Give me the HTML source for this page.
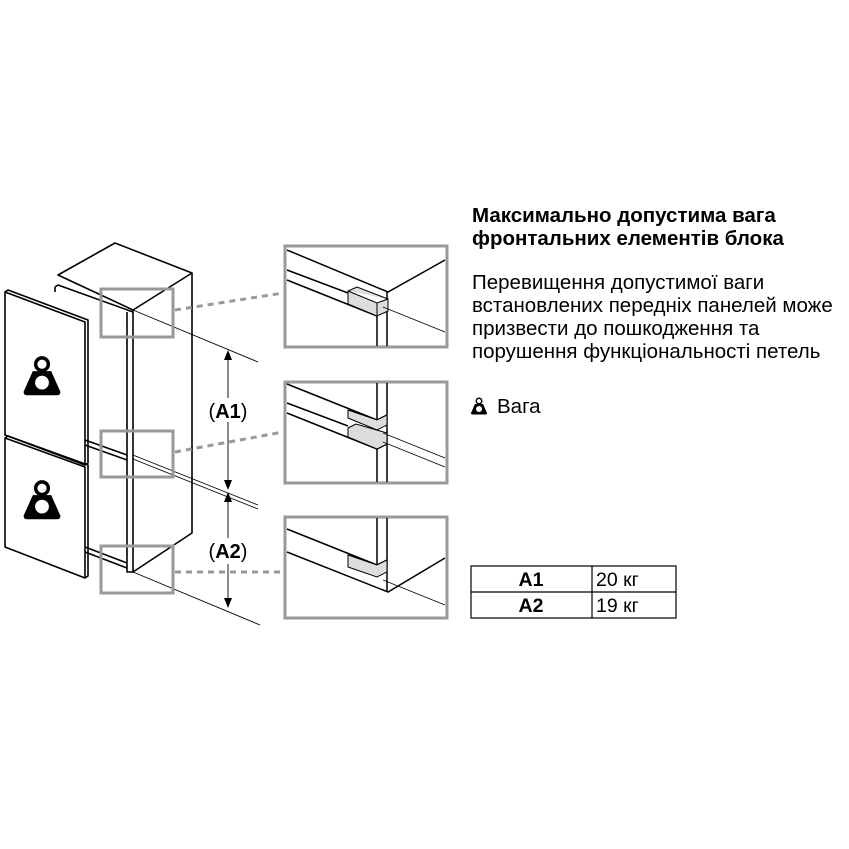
<!DOCTYPE html>
<html><head><meta charset="utf-8"><style>
html,body{margin:0;padding:0;background:#fff;width:849px;height:849px;overflow:hidden}
svg{display:block}
text{font-family:"Liberation Sans",sans-serif;fill:#000}
</style></head><body>
<svg width="849" height="849" viewBox="0 0 849 849" xmlns="http://www.w3.org/2000/svg">
<defs>
<g id="wt">
<circle cx="0" cy="-12" r="5.5" fill="none" stroke="#000" stroke-width="3"/>
<path d="M-8,-6 L8,-6 L16,12 Q16,15 13,15 L-13,15 Q-16,15 -16,12 Z" fill="#000"/>
<circle cx="0" cy="4" r="6" fill="#fff"/>
</g>
</defs>
<g fill="none" stroke="#000" stroke-width="1.6" stroke-linejoin="round">
<path d="M58,275 L115,243 L192,273 L133,310 Z" fill="#fff"/>
<path d="M192,273 L192,533 L133,572 L133,310"/>
<path d="M55,287 L55,292 M55,287 L58,285 L133,312"/>
<path d="M127,312 L127,572 L133,572"/>
<path d="M85,440 L127,455 M85,445 L127,460"/>
<path d="M85,547 L127,563 M85,552 L127,568"/>
<path d="M5,292 L85,322 L85,465 L5,435 Z" fill="#fff"/>
<path d="M5,292 L8,290 L88,320 L88,463 L85,465"/>
<path d="M5,438 L85,467 L85,578 L5,547 Z" fill="#fff"/>
<path d="M5,438 L8,436 L88,465 L88,576 L85,578"/>
</g>
<use href="#wt" transform="translate(42,378) scale(1.15)"/>
<use href="#wt" transform="translate(42,502) scale(1.15)"/>
<g stroke="#000" stroke-width="0.9" fill="none">
<line x1="133" y1="310" x2="258" y2="362"/>
<line x1="133" y1="455" x2="258" y2="505"/>
<line x1="133" y1="459" x2="258" y2="509"/>
<line x1="133" y1="572" x2="260" y2="625"/>
<line x1="228" y1="352" x2="228" y2="398" />
<line x1="228" y1="422" x2="228" y2="488" />
<line x1="228" y1="494" x2="228" y2="538" />
<line x1="228" y1="564" x2="228" y2="606" />
</g>
<g fill="#000">
<path d="M224,360 L232,360 L228,350Z"/><path d="M224,480 L232,480 L228,490Z"/>
<path d="M224,502 L232,502 L228,492Z"/><path d="M224,598 L232,598 L228,608Z"/>
</g>
<text x="228" y="418" font-size="20" text-anchor="middle">(<tspan font-weight="bold">A1</tspan>)</text>
<text x="228" y="558" font-size="20" text-anchor="middle">(<tspan font-weight="bold">A2</tspan>)</text>
<g fill="none" stroke="#999" stroke-width="3">
<rect x="101" y="289" width="72" height="48"/>
<rect x="101" y="431" width="72" height="46"/>
<rect x="101" y="546" width="72" height="47"/>
<rect x="285" y="246" width="162" height="101"/>
<rect x="285" y="382" width="162" height="101"/>
<rect x="285" y="517" width="162" height="101"/>
</g>
<g stroke="#999" stroke-width="3" stroke-dasharray="6,5">
<line x1="175" y1="310" x2="283" y2="293"/>
<line x1="175" y1="452" x2="283" y2="432"/>
<line x1="175" y1="572" x2="283" y2="572"/>
</g>
<g fill="none" stroke="#000" stroke-width="1.5">
<path d="M287,250 L388,292 L445,260"/>
<path d="M287,270 L348,293 M287,280 L377,316"/>
<path d="M377,316 L377,346 M387,292 L387,346"/>
<path d="M348,291 L357,287 L388,299 L388,311 L377,316 L348,304 Z M348,291 L377,303 L388,299 M377,303 L377,316" fill="#ddd" stroke-width="1"/>
<line x1="383" y1="307" x2="445" y2="332" stroke-width="0.8"/>
<path d="M377,383 L377,482 M387,383 L387,482"/>
<path d="M287,384 L377,420 L387,415"/>
<path d="M287,403 L348,426 M287,413 L377,449 L387,444"/>
<path d="M348,410 L377,420 L387,415 L387,425 L377,430 L348,418 Z" fill="#ddd" stroke-width="1"/>
<path d="M348,428 L356,424 L387,433 L387,444 L377,449 L348,437 Z" fill="#ddd" stroke-width="1"/>
<line x1="383" y1="433" x2="445" y2="458" stroke-width="0.8"/>
<line x1="383" y1="442" x2="445" y2="467" stroke-width="0.8"/>
<path d="M377,518 L377,577 M387,518 L387,592"/>
<path d="M287,529 L377,565 L387,560"/>
<path d="M287,552 L388,592 L445,558"/>
<path d="M348,555 L377,565 L387,560 L387,572 L377,577 L348,567 Z" fill="#ddd" stroke-width="1"/>
<line x1="383" y1="580" x2="445" y2="605" stroke-width="0.8"/>
</g>
<text x="472" y="222" font-size="20.5" font-weight="bold">Максимально допустима вага</text>
<text x="472" y="245" font-size="20.5" font-weight="bold">фронтальних елементів блока</text>
<g font-size="20.5">
<text x="472" y="289">Перевищення допустимої ваги</text>
<text x="472" y="312">встановлених передніх панелей може</text>
<text x="472" y="335">призвести до пошкодження та</text>
<text x="472" y="358">порушення функціональності петель</text>
<text x="497" y="413">Вага</text>
</g>
<use href="#wt" transform="translate(479,407) scale(0.5)"/>
<g fill="none" stroke="#000" stroke-width="1.2">
<rect x="471" y="566" width="205" height="52"/>
<line x1="471" y1="592" x2="676" y2="592"/>
<line x1="592" y1="566" x2="592" y2="618"/>
</g>
<text x="531" y="586" font-size="19.5" font-weight="bold" text-anchor="middle">A1</text>
<text x="531" y="612" font-size="19.5" font-weight="bold" text-anchor="middle">A2</text>
<text x="596" y="586" font-size="19.5">20 кг</text>
<text x="596" y="612" font-size="19.5">19 кг</text>
</svg>
</body></html>
